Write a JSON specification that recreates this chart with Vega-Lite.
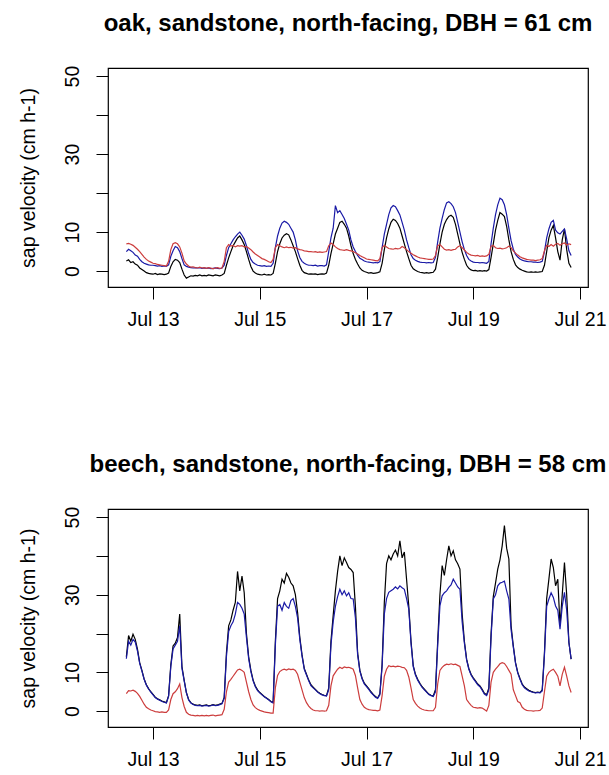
{
"$schema":"https://vega.github.io/schema/vega-lite/v6.json",
"background":"white",
"padding":{"left":17,"top":11,"right":5,"bottom":5},
"spacing":222,
"bounds":"flush",
"config":{
 "font":"Liberation Sans",
 "view":{"stroke":"#000","strokeWidth":1.2},
 "axis":{"domain":false,"grid":false,"tickColor":"#000","tickSize":12,"tickWidth":1,"labelColor":"#000","labelFontSize":19.5,"labelFont":"Liberation Sans","titleFont":"Liberation Sans","titleFontSize":19.5,"titleFontWeight":"normal","titleColor":"#000","labelFlush":false,"labelOverlap":false,"labelBound":false},
 "axisX":{"labelPadding":11.5,"labelAngle":0,"labelBaseline":"top","labelAlign":"center"},
 "axisY":{"labelPadding":18,"titleX":-74,"titleBaseline":"alphabetic","titleAngle":270,"titleAlign":"center"},
 "title":{"font":"Liberation Sans","fontSize":24,"fontWeight":"bold","color":"#000","anchor":"middle","frame":"group","baseline":"alphabetic","offset":29}
},
"datasets":{
"oak":[
{"t":"2014-07-12T12:00","k":2.6,"b":5.0,"r":7.0},
{"t":"2014-07-12T13:00","k":2.9,"b":5.6,"r":7.1},
{"t":"2014-07-12T14:00","k":2.2,"b":5.2,"r":6.9},
{"t":"2014-07-12T15:00","k":2.4,"b":4.8,"r":6.6},
{"t":"2014-07-12T16:00","k":1.8,"b":4.1,"r":6.1},
{"t":"2014-07-12T17:00","k":1.5,"b":3.8,"r":5.6},
{"t":"2014-07-12T18:00","k":0.8,"b":3.0,"r":5.0},
{"t":"2014-07-12T19:00","k":0.4,"b":2.4,"r":4.3},
{"t":"2014-07-12T20:00","k":0.0,"b":2.0,"r":3.6},
{"t":"2014-07-12T21:00","k":-0.4,"b":1.8,"r":3.0},
{"t":"2014-07-12T22:00","k":-0.6,"b":1.6,"r":2.6},
{"t":"2014-07-12T23:00","k":-0.7,"b":1.5,"r":2.3},
{"t":"2014-07-13T00:00","k":-0.8,"b":1.5,"r":2.0},
{"t":"2014-07-13T01:00","k":-0.6,"b":1.4,"r":1.9},
{"t":"2014-07-13T02:00","k":-0.9,"b":1.3,"r":1.7},
{"t":"2014-07-13T03:00","k":-0.7,"b":1.4,"r":1.6},
{"t":"2014-07-13T04:00","k":-0.8,"b":1.2,"r":1.5},
{"t":"2014-07-13T05:00","k":-0.9,"b":1.3,"r":1.4},
{"t":"2014-07-13T06:00","k":-0.8,"b":1.2,"r":1.3},
{"t":"2014-07-13T07:00","k":-0.5,"b":1.6,"r":2.5},
{"t":"2014-07-13T08:00","k":1.2,"b":3.8,"r":5.5},
{"t":"2014-07-13T09:00","k":2.4,"b":5.2,"r":7.0},
{"t":"2014-07-13T10:00","k":3.0,"b":6.3,"r":7.3},
{"t":"2014-07-13T11:00","k":2.8,"b":6.0,"r":7.0},
{"t":"2014-07-13T12:00","k":2.2,"b":5.0,"r":6.2},
{"t":"2014-07-13T13:00","k":0.5,"b":3.2,"r":4.6},
{"t":"2014-07-13T14:00","k":-1.0,"b":1.6,"r":2.6},
{"t":"2014-07-13T15:00","k":-1.8,"b":1.2,"r":1.8},
{"t":"2014-07-13T16:00","k":-1.5,"b":1.0,"r":1.3},
{"t":"2014-07-13T17:00","k":-1.2,"b":0.9,"r":1.0},
{"t":"2014-07-13T18:00","k":-1.3,"b":0.8,"r":1.1},
{"t":"2014-07-13T19:00","k":-1.1,"b":0.9,"r":0.9},
{"t":"2014-07-13T20:00","k":-1.2,"b":0.8,"r":0.8},
{"t":"2014-07-13T21:00","k":-1.0,"b":0.9,"r":1.0},
{"t":"2014-07-13T22:00","k":-1.2,"b":0.7,"r":0.8},
{"t":"2014-07-13T23:00","k":-1.1,"b":0.8,"r":0.9},
{"t":"2014-07-14T00:00","k":-1.2,"b":0.7,"r":0.7},
{"t":"2014-07-14T01:00","k":-1.0,"b":0.8,"r":0.9},
{"t":"2014-07-14T02:00","k":-1.1,"b":0.6,"r":0.8},
{"t":"2014-07-14T03:00","k":-1.2,"b":0.7,"r":0.6},
{"t":"2014-07-14T04:00","k":-1.0,"b":0.8,"r":0.8},
{"t":"2014-07-14T05:00","k":-1.1,"b":0.7,"r":0.9},
{"t":"2014-07-14T06:00","k":-1.2,"b":0.6,"r":0.7},
{"t":"2014-07-14T07:00","k":-1.0,"b":0.8,"r":0.8},
{"t":"2014-07-14T08:00","k":-0.6,"b":1.5,"r":2.5},
{"t":"2014-07-14T09:00","k":1.5,"b":4.0,"r":6.0},
{"t":"2014-07-14T10:00","k":3.4,"b":6.0,"r":6.8},
{"t":"2014-07-14T11:00","k":5.0,"b":7.0,"r":6.4},
{"t":"2014-07-14T12:00","k":6.5,"b":8.0,"r":6.6},
{"t":"2014-07-14T13:00","k":7.5,"b":8.8,"r":6.2},
{"t":"2014-07-14T14:00","k":8.5,"b":9.5,"r":6.5},
{"t":"2014-07-14T15:00","k":9.0,"b":10.0,"r":6.4},
{"t":"2014-07-14T16:00","k":8.0,"b":9.2,"r":6.5},
{"t":"2014-07-14T17:00","k":6.8,"b":8.2,"r":6.2},
{"t":"2014-07-14T18:00","k":5.0,"b":6.5,"r":6.3},
{"t":"2014-07-14T19:00","k":3.0,"b":4.5,"r":5.9},
{"t":"2014-07-14T20:00","k":1.2,"b":3.0,"r":5.5},
{"t":"2014-07-14T21:00","k":0.0,"b":2.2,"r":4.9},
{"t":"2014-07-14T22:00","k":-0.5,"b":1.8,"r":4.4},
{"t":"2014-07-14T23:00","k":-0.8,"b":1.5,"r":4.0},
{"t":"2014-07-15T00:00","k":-0.9,"b":1.4,"r":3.6},
{"t":"2014-07-15T01:00","k":-1.0,"b":1.3,"r":3.2},
{"t":"2014-07-15T02:00","k":-0.8,"b":1.4,"r":3.0},
{"t":"2014-07-15T03:00","k":-1.0,"b":1.2,"r":2.7},
{"t":"2014-07-15T04:00","k":-0.9,"b":1.3,"r":2.4},
{"t":"2014-07-15T05:00","k":-1.0,"b":1.2,"r":2.2},
{"t":"2014-07-15T06:00","k":-0.6,"b":2.0,"r":3.0},
{"t":"2014-07-15T07:00","k":2.0,"b":6.0,"r":6.0},
{"t":"2014-07-15T08:00","k":5.0,"b":9.0,"r":6.8},
{"t":"2014-07-15T09:00","k":7.0,"b":11.0,"r":6.5},
{"t":"2014-07-15T10:00","k":8.5,"b":12.3,"r":6.2},
{"t":"2014-07-15T11:00","k":9.2,"b":12.8,"r":6.0},
{"t":"2014-07-15T12:00","k":9.6,"b":12.5,"r":6.2},
{"t":"2014-07-15T13:00","k":9.3,"b":12.0,"r":6.0},
{"t":"2014-07-15T14:00","k":8.0,"b":11.0,"r":6.1},
{"t":"2014-07-15T15:00","k":6.5,"b":10.0,"r":5.9},
{"t":"2014-07-15T16:00","k":5.0,"b":8.0,"r":6.0},
{"t":"2014-07-15T17:00","k":3.2,"b":5.2,"r":5.7},
{"t":"2014-07-15T18:00","k":1.5,"b":3.5,"r":5.5},
{"t":"2014-07-15T19:00","k":0.2,"b":2.5,"r":5.4},
{"t":"2014-07-15T20:00","k":-0.4,"b":2.0,"r":5.2},
{"t":"2014-07-15T21:00","k":-0.6,"b":1.7,"r":5.1},
{"t":"2014-07-15T22:00","k":-0.8,"b":1.5,"r":5.0},
{"t":"2014-07-15T23:00","k":-0.7,"b":1.5,"r":5.0},
{"t":"2014-07-16T00:00","k":-0.8,"b":1.4,"r":4.9},
{"t":"2014-07-16T01:00","k":-0.7,"b":1.5,"r":5.0},
{"t":"2014-07-16T02:00","k":-0.9,"b":1.3,"r":4.8},
{"t":"2014-07-16T03:00","k":-0.8,"b":1.4,"r":4.9},
{"t":"2014-07-16T04:00","k":-0.7,"b":1.4,"r":4.8},
{"t":"2014-07-16T05:00","k":-0.8,"b":1.3,"r":4.9},
{"t":"2014-07-16T06:00","k":-0.5,"b":1.6,"r":5.0},
{"t":"2014-07-16T07:00","k":1.5,"b":5.0,"r":6.5},
{"t":"2014-07-16T08:00","k":4.5,"b":8.5,"r":7.2},
{"t":"2014-07-16T09:00","k":7.0,"b":11.0,"r":6.8},
{"t":"2014-07-16T10:00","k":9.5,"b":16.8,"r":6.2},
{"t":"2014-07-16T11:00","k":11.0,"b":15.0,"r":5.8},
{"t":"2014-07-16T12:00","k":12.5,"b":15.5,"r":5.5},
{"t":"2014-07-16T13:00","k":12.8,"b":14.5,"r":5.4},
{"t":"2014-07-16T14:00","k":12.0,"b":13.5,"r":5.3},
{"t":"2014-07-16T15:00","k":11.0,"b":12.0,"r":5.5},
{"t":"2014-07-16T16:00","k":9.0,"b":10.5,"r":5.3},
{"t":"2014-07-16T17:00","k":6.5,"b":8.0,"r":5.2},
{"t":"2014-07-16T18:00","k":4.5,"b":6.2,"r":5.0},
{"t":"2014-07-16T19:00","k":3.0,"b":5.0,"r":4.7},
{"t":"2014-07-16T20:00","k":1.8,"b":4.0,"r":4.4},
{"t":"2014-07-16T21:00","k":0.8,"b":3.3,"r":4.0},
{"t":"2014-07-16T22:00","k":0.2,"b":3.0,"r":3.7},
{"t":"2014-07-16T23:00","k":-0.1,"b":2.6,"r":3.4},
{"t":"2014-07-17T00:00","k":-0.3,"b":2.4,"r":3.1},
{"t":"2014-07-17T01:00","k":-0.5,"b":2.3,"r":3.0},
{"t":"2014-07-17T02:00","k":-0.4,"b":2.2,"r":2.9},
{"t":"2014-07-17T03:00","k":-0.6,"b":2.1,"r":2.8},
{"t":"2014-07-17T04:00","k":-0.5,"b":2.2,"r":2.7},
{"t":"2014-07-17T05:00","k":-0.4,"b":2.1,"r":2.6},
{"t":"2014-07-17T06:00","k":-0.2,"b":2.4,"r":3.2},
{"t":"2014-07-17T07:00","k":2.0,"b":6.0,"r":6.0},
{"t":"2014-07-17T08:00","k":5.5,"b":9.5,"r":6.6},
{"t":"2014-07-17T09:00","k":8.5,"b":12.0,"r":6.2},
{"t":"2014-07-17T10:00","k":10.8,"b":14.5,"r":5.8},
{"t":"2014-07-17T11:00","k":12.5,"b":16.2,"r":5.7},
{"t":"2014-07-17T12:00","k":13.3,"b":16.8,"r":5.6},
{"t":"2014-07-17T13:00","k":13.0,"b":16.5,"r":5.8},
{"t":"2014-07-17T14:00","k":12.2,"b":15.5,"r":5.7},
{"t":"2014-07-17T15:00","k":11.0,"b":14.4,"r":5.8},
{"t":"2014-07-17T16:00","k":9.0,"b":12.5,"r":6.3},
{"t":"2014-07-17T17:00","k":7.0,"b":10.5,"r":6.0},
{"t":"2014-07-17T18:00","k":5.0,"b":8.0,"r":5.5},
{"t":"2014-07-17T19:00","k":3.2,"b":6.0,"r":5.0},
{"t":"2014-07-17T20:00","k":1.5,"b":4.2,"r":4.6},
{"t":"2014-07-17T21:00","k":0.6,"b":3.2,"r":4.2},
{"t":"2014-07-17T22:00","k":0.2,"b":2.8,"r":3.9},
{"t":"2014-07-17T23:00","k":-0.1,"b":2.5,"r":3.6},
{"t":"2014-07-18T00:00","k":-0.3,"b":2.3,"r":3.4},
{"t":"2014-07-18T01:00","k":-0.4,"b":2.2,"r":3.3},
{"t":"2014-07-18T02:00","k":-0.5,"b":2.2,"r":3.2},
{"t":"2014-07-18T03:00","k":-0.4,"b":2.1,"r":3.1},
{"t":"2014-07-18T04:00","k":-0.5,"b":2.2,"r":3.0},
{"t":"2014-07-18T05:00","k":-0.4,"b":2.1,"r":3.0},
{"t":"2014-07-18T06:00","k":-0.3,"b":2.2,"r":3.1},
{"t":"2014-07-18T07:00","k":0.5,"b":3.5,"r":4.0},
{"t":"2014-07-18T08:00","k":3.5,"b":7.5,"r":6.5},
{"t":"2014-07-18T09:00","k":7.0,"b":11.0,"r":6.8},
{"t":"2014-07-18T10:00","k":10.0,"b":13.5,"r":6.2},
{"t":"2014-07-18T11:00","k":12.0,"b":15.8,"r":5.6},
{"t":"2014-07-18T12:00","k":13.2,"b":17.5,"r":5.4},
{"t":"2014-07-18T13:00","k":14.0,"b":17.8,"r":5.5},
{"t":"2014-07-18T14:00","k":14.3,"b":17.3,"r":5.3},
{"t":"2014-07-18T15:00","k":13.8,"b":16.5,"r":5.5},
{"t":"2014-07-18T16:00","k":12.0,"b":15.0,"r":5.6},
{"t":"2014-07-18T17:00","k":9.5,"b":12.5,"r":6.2},
{"t":"2014-07-18T18:00","k":7.0,"b":10.0,"r":6.5},
{"t":"2014-07-18T19:00","k":4.8,"b":7.5,"r":6.0},
{"t":"2014-07-18T20:00","k":3.0,"b":5.5,"r":5.4},
{"t":"2014-07-18T21:00","k":1.5,"b":4.0,"r":4.8},
{"t":"2014-07-18T22:00","k":0.7,"b":3.0,"r":4.4},
{"t":"2014-07-18T23:00","k":0.3,"b":2.6,"r":4.1},
{"t":"2014-07-19T00:00","k":0.1,"b":2.3,"r":4.0},
{"t":"2014-07-19T01:00","k":0.2,"b":2.2,"r":3.9},
{"t":"2014-07-19T02:00","k":0.0,"b":2.2,"r":4.0},
{"t":"2014-07-19T03:00","k":0.1,"b":2.1,"r":3.8},
{"t":"2014-07-19T04:00","k":0.0,"b":2.2,"r":3.9},
{"t":"2014-07-19T05:00","k":0.1,"b":2.1,"r":3.8},
{"t":"2014-07-19T06:00","k":0.0,"b":2.0,"r":3.9},
{"t":"2014-07-19T07:00","k":0.4,"b":2.5,"r":4.3},
{"t":"2014-07-19T08:00","k":3.5,"b":7.0,"r":6.4},
{"t":"2014-07-19T09:00","k":7.0,"b":11.0,"r":6.6},
{"t":"2014-07-19T10:00","k":10.5,"b":14.5,"r":6.0},
{"t":"2014-07-19T11:00","k":13.0,"b":17.0,"r":5.8},
{"t":"2014-07-19T12:00","k":15.0,"b":18.7,"r":5.9},
{"t":"2014-07-19T13:00","k":14.6,"b":18.3,"r":5.7},
{"t":"2014-07-19T14:00","k":14.0,"b":17.0,"r":5.8},
{"t":"2014-07-19T15:00","k":11.5,"b":14.5,"r":6.0},
{"t":"2014-07-19T16:00","k":8.0,"b":11.0,"r":6.4},
{"t":"2014-07-19T17:00","k":5.0,"b":7.8,"r":6.0},
{"t":"2014-07-19T18:00","k":3.0,"b":5.6,"r":5.2},
{"t":"2014-07-19T19:00","k":1.6,"b":4.3,"r":4.6},
{"t":"2014-07-19T20:00","k":0.9,"b":3.6,"r":4.1},
{"t":"2014-07-19T21:00","k":0.5,"b":3.1,"r":3.7},
{"t":"2014-07-19T22:00","k":0.2,"b":2.8,"r":3.4},
{"t":"2014-07-19T23:00","k":0.0,"b":2.6,"r":3.2},
{"t":"2014-07-20T00:00","k":-0.2,"b":2.5,"r":3.0},
{"t":"2014-07-20T01:00","k":-0.3,"b":2.4,"r":2.9},
{"t":"2014-07-20T02:00","k":-0.2,"b":2.4,"r":2.8},
{"t":"2014-07-20T03:00","k":-0.3,"b":2.3,"r":2.8},
{"t":"2014-07-20T04:00","k":-0.2,"b":2.3,"r":2.7},
{"t":"2014-07-20T05:00","k":-0.3,"b":2.2,"r":2.8},
{"t":"2014-07-20T06:00","k":-0.2,"b":2.3,"r":2.9},
{"t":"2014-07-20T07:00","k":-0.1,"b":2.5,"r":3.2},
{"t":"2014-07-20T08:00","k":1.5,"b":5.0,"r":5.2},
{"t":"2014-07-20T09:00","k":5.0,"b":8.5,"r":6.6},
{"t":"2014-07-20T10:00","k":8.5,"b":10.8,"r":6.3},
{"t":"2014-07-20T11:00","k":10.5,"b":12.5,"r":6.8},
{"t":"2014-07-20T12:00","k":11.7,"b":13.0,"r":6.4},
{"t":"2014-07-20T13:00","k":8.5,"b":10.5,"r":6.9},
{"t":"2014-07-20T14:00","k":5.0,"b":9.8,"r":7.1},
{"t":"2014-07-20T15:00","k":2.8,"b":9.5,"r":6.6},
{"t":"2014-07-20T16:00","k":8.0,"b":10.2,"r":7.0},
{"t":"2014-07-20T17:00","k":10.8,"b":10.8,"r":7.2},
{"t":"2014-07-20T18:00","k":5.5,"b":8.2,"r":6.7},
{"t":"2014-07-20T19:00","k":2.0,"b":5.2,"r":7.0},
{"t":"2014-07-20T20:00","k":0.9,"b":4.0,"r":6.8}
],
"beech":[
{"t":"2014-07-12T12:00","k":14.0,"b":13.5,"r":4.5},
{"t":"2014-07-12T13:00","k":19.5,"b":18.0,"r":5.3},
{"t":"2014-07-12T14:00","k":18.0,"b":17.0,"r":5.2},
{"t":"2014-07-12T15:00","k":19.8,"b":18.5,"r":5.4},
{"t":"2014-07-12T16:00","k":18.5,"b":17.8,"r":5.1},
{"t":"2014-07-12T17:00","k":16.0,"b":15.5,"r":4.6},
{"t":"2014-07-12T18:00","k":12.5,"b":12.3,"r":3.8},
{"t":"2014-07-12T19:00","k":10.5,"b":10.3,"r":2.8},
{"t":"2014-07-12T20:00","k":8.3,"b":8.2,"r":1.8},
{"t":"2014-07-12T21:00","k":6.8,"b":6.7,"r":1.0},
{"t":"2014-07-12T22:00","k":5.8,"b":5.7,"r":0.6},
{"t":"2014-07-12T23:00","k":5.0,"b":4.9,"r":0.3},
{"t":"2014-07-13T00:00","k":4.3,"b":4.2,"r":0.1},
{"t":"2014-07-13T01:00","k":3.6,"b":3.5,"r":-0.1},
{"t":"2014-07-13T02:00","k":3.2,"b":3.1,"r":-0.2},
{"t":"2014-07-13T03:00","k":2.9,"b":2.8,"r":-0.3},
{"t":"2014-07-13T04:00","k":2.6,"b":2.5,"r":-0.2},
{"t":"2014-07-13T05:00","k":2.4,"b":2.3,"r":-0.3},
{"t":"2014-07-13T06:00","k":2.2,"b":2.1,"r":-0.3},
{"t":"2014-07-13T07:00","k":4.0,"b":3.8,"r":0.3},
{"t":"2014-07-13T08:00","k":12.0,"b":11.5,"r":3.0},
{"t":"2014-07-13T09:00","k":16.8,"b":16.0,"r":4.5},
{"t":"2014-07-13T10:00","k":17.5,"b":17.0,"r":5.0},
{"t":"2014-07-13T11:00","k":19.0,"b":18.0,"r":5.8},
{"t":"2014-07-13T12:00","k":25.0,"b":22.0,"r":7.0},
{"t":"2014-07-13T13:00","k":11.5,"b":11.0,"r":3.5},
{"t":"2014-07-13T14:00","k":8.0,"b":7.8,"r":1.2},
{"t":"2014-07-13T15:00","k":4.8,"b":4.7,"r":-0.3},
{"t":"2014-07-13T16:00","k":3.0,"b":2.9,"r":-0.8},
{"t":"2014-07-13T17:00","k":2.2,"b":2.1,"r":-1.0},
{"t":"2014-07-13T18:00","k":1.8,"b":1.7,"r":-1.1},
{"t":"2014-07-13T19:00","k":1.6,"b":1.5,"r":-1.2},
{"t":"2014-07-13T20:00","k":1.5,"b":1.4,"r":-1.1},
{"t":"2014-07-13T21:00","k":1.6,"b":1.5,"r":-1.2},
{"t":"2014-07-13T22:00","k":1.4,"b":1.3,"r":-1.1},
{"t":"2014-07-13T23:00","k":1.5,"b":1.4,"r":-1.2},
{"t":"2014-07-14T00:00","k":1.6,"b":1.5,"r":-1.1},
{"t":"2014-07-14T01:00","k":1.4,"b":1.3,"r":-1.2},
{"t":"2014-07-14T02:00","k":1.5,"b":1.4,"r":-1.1},
{"t":"2014-07-14T03:00","k":1.7,"b":1.6,"r":-1.0},
{"t":"2014-07-14T04:00","k":1.5,"b":1.4,"r":-1.2},
{"t":"2014-07-14T05:00","k":1.6,"b":1.5,"r":-1.1},
{"t":"2014-07-14T06:00","k":1.8,"b":1.7,"r":-1.0},
{"t":"2014-07-14T07:00","k":2.0,"b":1.9,"r":-0.9},
{"t":"2014-07-14T08:00","k":3.5,"b":3.3,"r":0.5},
{"t":"2014-07-14T09:00","k":15.0,"b":14.0,"r":5.0},
{"t":"2014-07-14T10:00","k":22.0,"b":20.5,"r":7.5},
{"t":"2014-07-14T11:00","k":23.5,"b":22.0,"r":8.2},
{"t":"2014-07-14T12:00","k":26.0,"b":23.0,"r":9.0},
{"t":"2014-07-14T13:00","k":28.0,"b":25.0,"r":9.8},
{"t":"2014-07-14T14:00","k":36.0,"b":28.0,"r":10.6},
{"t":"2014-07-14T15:00","k":31.0,"b":27.5,"r":10.8},
{"t":"2014-07-14T16:00","k":34.8,"b":26.5,"r":10.5},
{"t":"2014-07-14T17:00","k":30.5,"b":25.0,"r":10.0},
{"t":"2014-07-14T18:00","k":20.0,"b":19.0,"r":7.5},
{"t":"2014-07-14T19:00","k":14.0,"b":13.5,"r":5.0},
{"t":"2014-07-14T20:00","k":10.5,"b":10.2,"r":3.0},
{"t":"2014-07-14T21:00","k":8.0,"b":7.8,"r":1.6},
{"t":"2014-07-14T22:00","k":6.5,"b":6.3,"r":0.9},
{"t":"2014-07-14T23:00","k":5.5,"b":5.3,"r":0.5},
{"t":"2014-07-15T00:00","k":4.8,"b":4.7,"r":0.2},
{"t":"2014-07-15T01:00","k":4.3,"b":4.2,"r":0.0},
{"t":"2014-07-15T02:00","k":3.8,"b":3.7,"r":-0.2},
{"t":"2014-07-15T03:00","k":3.4,"b":3.3,"r":-0.3},
{"t":"2014-07-15T04:00","k":3.0,"b":2.9,"r":-0.4},
{"t":"2014-07-15T05:00","k":2.5,"b":2.4,"r":-0.5},
{"t":"2014-07-15T06:00","k":2.2,"b":2.1,"r":-0.5},
{"t":"2014-07-15T07:00","k":18.0,"b":17.0,"r":6.0},
{"t":"2014-07-15T08:00","k":29.0,"b":27.0,"r":9.2},
{"t":"2014-07-15T09:00","k":31.0,"b":27.5,"r":10.2},
{"t":"2014-07-15T10:00","k":34.0,"b":26.0,"r":10.6},
{"t":"2014-07-15T11:00","k":33.0,"b":28.0,"r":10.8},
{"t":"2014-07-15T12:00","k":35.5,"b":27.0,"r":10.6},
{"t":"2014-07-15T13:00","k":34.5,"b":26.5,"r":10.9},
{"t":"2014-07-15T14:00","k":33.0,"b":28.5,"r":10.7},
{"t":"2014-07-15T15:00","k":32.3,"b":29.0,"r":10.8},
{"t":"2014-07-15T16:00","k":30.0,"b":27.0,"r":10.5},
{"t":"2014-07-15T17:00","k":25.4,"b":24.0,"r":9.5},
{"t":"2014-07-15T18:00","k":19.0,"b":18.5,"r":7.5},
{"t":"2014-07-15T19:00","k":14.5,"b":14.2,"r":5.5},
{"t":"2014-07-15T20:00","k":11.0,"b":10.8,"r":3.5},
{"t":"2014-07-15T21:00","k":9.5,"b":9.3,"r":2.2},
{"t":"2014-07-15T22:00","k":8.0,"b":7.8,"r":1.3},
{"t":"2014-07-15T23:00","k":6.8,"b":6.6,"r":0.7},
{"t":"2014-07-16T00:00","k":6.2,"b":6.0,"r":0.3},
{"t":"2014-07-16T01:00","k":5.6,"b":5.5,"r":0.1},
{"t":"2014-07-16T02:00","k":5.0,"b":4.9,"r":0.1},
{"t":"2014-07-16T03:00","k":4.6,"b":4.5,"r":0.0},
{"t":"2014-07-16T04:00","k":4.3,"b":4.2,"r":0.1},
{"t":"2014-07-16T05:00","k":4.1,"b":4.0,"r":0.0},
{"t":"2014-07-16T06:00","k":4.0,"b":3.9,"r":0.1},
{"t":"2014-07-16T07:00","k":6.0,"b":5.5,"r":1.5},
{"t":"2014-07-16T08:00","k":18.0,"b":17.0,"r":6.5},
{"t":"2014-07-16T09:00","k":24.6,"b":23.0,"r":9.1},
{"t":"2014-07-16T10:00","k":31.0,"b":27.0,"r":10.0},
{"t":"2014-07-16T11:00","k":36.0,"b":29.5,"r":10.8},
{"t":"2014-07-16T12:00","k":40.0,"b":31.4,"r":11.3},
{"t":"2014-07-16T13:00","k":37.5,"b":30.0,"r":11.0},
{"t":"2014-07-16T14:00","k":39.5,"b":31.0,"r":11.4},
{"t":"2014-07-16T15:00","k":38.3,"b":29.7,"r":11.2},
{"t":"2014-07-16T16:00","k":37.0,"b":30.5,"r":11.3},
{"t":"2014-07-16T17:00","k":36.5,"b":29.0,"r":11.1},
{"t":"2014-07-16T18:00","k":35.7,"b":28.9,"r":10.8},
{"t":"2014-07-16T19:00","k":27.0,"b":24.0,"r":9.2},
{"t":"2014-07-16T20:00","k":15.0,"b":14.5,"r":6.0},
{"t":"2014-07-16T21:00","k":10.5,"b":10.3,"r":3.0},
{"t":"2014-07-16T22:00","k":8.5,"b":8.3,"r":1.8},
{"t":"2014-07-16T23:00","k":7.2,"b":7.0,"r":1.0},
{"t":"2014-07-17T00:00","k":6.5,"b":6.3,"r":0.6},
{"t":"2014-07-17T01:00","k":5.8,"b":5.6,"r":0.4},
{"t":"2014-07-17T02:00","k":5.0,"b":4.8,"r":0.3},
{"t":"2014-07-17T03:00","k":4.3,"b":4.2,"r":0.2},
{"t":"2014-07-17T04:00","k":3.8,"b":3.6,"r":0.2},
{"t":"2014-07-17T05:00","k":3.4,"b":3.3,"r":0.1},
{"t":"2014-07-17T06:00","k":4.5,"b":4.2,"r":0.3},
{"t":"2014-07-17T07:00","k":12.0,"b":11.5,"r":4.0},
{"t":"2014-07-17T08:00","k":28.0,"b":25.0,"r":9.0},
{"t":"2014-07-17T09:00","k":38.0,"b":29.0,"r":10.8},
{"t":"2014-07-17T10:00","k":40.0,"b":30.6,"r":11.7},
{"t":"2014-07-17T11:00","k":39.0,"b":31.0,"r":11.5},
{"t":"2014-07-17T12:00","k":40.5,"b":31.4,"r":11.6},
{"t":"2014-07-17T13:00","k":41.5,"b":32.0,"r":11.4},
{"t":"2014-07-17T14:00","k":40.0,"b":31.5,"r":11.6},
{"t":"2014-07-17T15:00","k":43.9,"b":32.3,"r":11.5},
{"t":"2014-07-17T16:00","k":39.5,"b":31.8,"r":11.3},
{"t":"2014-07-17T17:00","k":41.0,"b":31.4,"r":11.2},
{"t":"2014-07-17T18:00","k":34.0,"b":29.0,"r":10.5},
{"t":"2014-07-17T19:00","k":27.0,"b":26.3,"r":8.8},
{"t":"2014-07-17T20:00","k":18.0,"b":17.5,"r":6.0},
{"t":"2014-07-17T21:00","k":11.7,"b":11.5,"r":3.0},
{"t":"2014-07-17T22:00","k":9.5,"b":9.3,"r":2.0},
{"t":"2014-07-17T23:00","k":8.2,"b":8.0,"r":1.3},
{"t":"2014-07-18T00:00","k":7.2,"b":7.0,"r":0.8},
{"t":"2014-07-18T01:00","k":6.3,"b":6.1,"r":0.5},
{"t":"2014-07-18T02:00","k":5.7,"b":5.5,"r":0.3},
{"t":"2014-07-18T03:00","k":5.0,"b":4.9,"r":0.2},
{"t":"2014-07-18T04:00","k":4.4,"b":4.3,"r":0.1},
{"t":"2014-07-18T05:00","k":4.1,"b":4.0,"r":0.1},
{"t":"2014-07-18T06:00","k":3.9,"b":3.8,"r":0.1},
{"t":"2014-07-18T07:00","k":5.5,"b":5.0,"r":1.0},
{"t":"2014-07-18T08:00","k":18.0,"b":17.0,"r":7.0},
{"t":"2014-07-18T09:00","k":30.0,"b":27.1,"r":10.5},
{"t":"2014-07-18T10:00","k":37.5,"b":29.7,"r":11.3},
{"t":"2014-07-18T11:00","k":35.0,"b":30.5,"r":11.8},
{"t":"2014-07-18T12:00","k":39.0,"b":31.0,"r":12.1},
{"t":"2014-07-18T13:00","k":42.6,"b":31.9,"r":12.0},
{"t":"2014-07-18T14:00","k":40.0,"b":32.5,"r":12.2},
{"t":"2014-07-18T15:00","k":41.3,"b":34.0,"r":12.0},
{"t":"2014-07-18T16:00","k":39.0,"b":33.0,"r":12.1},
{"t":"2014-07-18T17:00","k":38.0,"b":32.0,"r":11.8},
{"t":"2014-07-18T18:00","k":36.6,"b":31.4,"r":11.5},
{"t":"2014-07-18T19:00","k":25.0,"b":23.0,"r":9.0},
{"t":"2014-07-18T20:00","k":18.0,"b":17.5,"r":6.5},
{"t":"2014-07-18T21:00","k":13.4,"b":13.2,"r":3.0},
{"t":"2014-07-18T22:00","k":11.0,"b":10.8,"r":2.2},
{"t":"2014-07-18T23:00","k":9.5,"b":9.3,"r":1.5},
{"t":"2014-07-19T00:00","k":8.6,"b":8.4,"r":1.0},
{"t":"2014-07-19T01:00","k":7.8,"b":7.6,"r":0.9},
{"t":"2014-07-19T02:00","k":7.0,"b":6.8,"r":0.8},
{"t":"2014-07-19T03:00","k":6.5,"b":6.3,"r":0.9},
{"t":"2014-07-19T04:00","k":5.6,"b":5.4,"r":0.8},
{"t":"2014-07-19T05:00","k":4.6,"b":4.4,"r":0.4},
{"t":"2014-07-19T06:00","k":4.2,"b":4.0,"r":0.0},
{"t":"2014-07-19T07:00","k":6.0,"b":5.5,"r":1.5},
{"t":"2014-07-19T08:00","k":20.0,"b":19.0,"r":7.5},
{"t":"2014-07-19T09:00","k":29.5,"b":28.9,"r":10.0},
{"t":"2014-07-19T10:00","k":33.0,"b":30.0,"r":10.8},
{"t":"2014-07-19T11:00","k":36.6,"b":32.3,"r":11.5},
{"t":"2014-07-19T12:00","k":39.0,"b":33.0,"r":12.2},
{"t":"2014-07-19T13:00","k":42.6,"b":33.2,"r":12.5},
{"t":"2014-07-19T14:00","k":47.8,"b":33.5,"r":12.3},
{"t":"2014-07-19T15:00","k":42.0,"b":31.0,"r":11.5},
{"t":"2014-07-19T16:00","k":39.2,"b":28.9,"r":10.5},
{"t":"2014-07-19T17:00","k":22.0,"b":21.0,"r":9.5},
{"t":"2014-07-19T18:00","k":16.8,"b":16.5,"r":5.5},
{"t":"2014-07-19T19:00","k":12.5,"b":12.3,"r":4.0},
{"t":"2014-07-19T20:00","k":10.0,"b":9.8,"r":2.5},
{"t":"2014-07-19T21:00","k":8.4,"b":8.2,"r":2.2},
{"t":"2014-07-19T22:00","k":7.0,"b":6.8,"r":1.0},
{"t":"2014-07-19T23:00","k":6.2,"b":6.0,"r":0.5},
{"t":"2014-07-20T00:00","k":5.8,"b":5.6,"r":0.2},
{"t":"2014-07-20T01:00","k":5.4,"b":5.2,"r":0.1},
{"t":"2014-07-20T02:00","k":5.1,"b":5.0,"r":0.1},
{"t":"2014-07-20T03:00","k":4.9,"b":4.8,"r":0.0},
{"t":"2014-07-20T04:00","k":4.8,"b":4.7,"r":0.1},
{"t":"2014-07-20T05:00","k":4.9,"b":4.8,"r":0.1},
{"t":"2014-07-20T06:00","k":4.8,"b":4.7,"r":0.2},
{"t":"2014-07-20T07:00","k":5.5,"b":5.2,"r":0.8},
{"t":"2014-07-20T08:00","k":15.0,"b":14.5,"r":5.0},
{"t":"2014-07-20T09:00","k":29.0,"b":27.0,"r":9.0},
{"t":"2014-07-20T10:00","k":34.0,"b":28.9,"r":10.0},
{"t":"2014-07-20T11:00","k":39.2,"b":30.5,"r":10.5},
{"t":"2014-07-20T12:00","k":37.0,"b":29.3,"r":10.8},
{"t":"2014-07-20T13:00","k":32.3,"b":27.1,"r":10.0},
{"t":"2014-07-20T14:00","k":34.0,"b":26.0,"r":9.0},
{"t":"2014-07-20T15:00","k":22.0,"b":21.1,"r":6.5},
{"t":"2014-07-20T16:00","k":30.0,"b":27.0,"r":9.5},
{"t":"2014-07-20T17:00","k":38.3,"b":30.6,"r":11.3},
{"t":"2014-07-20T18:00","k":30.0,"b":26.0,"r":9.0},
{"t":"2014-07-20T19:00","k":17.7,"b":17.7,"r":6.5},
{"t":"2014-07-20T20:00","k":13.4,"b":13.4,"r":4.8}
]
},
"vconcat":[
{
 "title":{"text":"oak, sandstone, north-facing, DBH = 61 cm"},
 "width":480,"height":219,
 "data":{"name":"oak"},
 "encoding":{"x":{"field":"t","type":"temporal","title":null,
   "scale":{"domain":[{"year":2014,"month":7,"date":12,"hours":3,"minutes":45},{"year":2014,"month":7,"date":21,"hours":3,"minutes":35}]},
   "axis":{"values":[{"year":2014,"month":7,"date":13},{"year":2014,"month":7,"date":15},{"year":2014,"month":7,"date":17},{"year":2014,"month":7,"date":19},{"year":2014,"month":7,"date":21}],"format":"%b %d"}}},
 "layer":[
  {"mark":{"type":"line","color":"#000000","strokeWidth":1.2},
   "encoding":{"y":{"field":"k","type":"quantitative","title":"sap velocity (cm h-1)","scale":{"domain":[-4.08,52.08],"nice":false,"zero":false},"axis":{"values":[0,10,20,30,40,50],"labelExpr":"datum.value==20||datum.value==40?'':datum.label","labelAngle":270,"labelAlign":"center","labelBaseline":"alphabetic","titleY":109.5}}}},
  {"mark":{"type":"line","color":"#1a1aa6","strokeWidth":1.2},
   "encoding":{"y":{"field":"b","type":"quantitative","title":"sap velocity (cm h-1)","scale":{"domain":[-4.08,52.08],"nice":false,"zero":false},"axis":{"values":[0,10,20,30,40,50],"labelExpr":"datum.value==20||datum.value==40?'':datum.label","labelAngle":270,"labelAlign":"center","labelBaseline":"alphabetic","titleY":109.5}}}},
  {"mark":{"type":"line","color":"#cc3d3d","strokeWidth":1.2},
   "encoding":{"y":{"field":"r","type":"quantitative","title":"sap velocity (cm h-1)","scale":{"domain":[-4.08,52.08],"nice":false,"zero":false},"axis":{"values":[0,10,20,30,40,50],"labelExpr":"datum.value==20||datum.value==40?'':datum.label","labelAngle":270,"labelAlign":"center","labelBaseline":"alphabetic","titleY":109.5}}}}
 ]
},
{
 "title":{"text":"beech, sandstone, north-facing, DBH = 58 cm"},
 "width":480,"height":218,
 "data":{"name":"beech"},
 "encoding":{"x":{"field":"t","type":"temporal","title":null,
   "scale":{"domain":[{"year":2014,"month":7,"date":12,"hours":3,"minutes":45},{"year":2014,"month":7,"date":21,"hours":3,"minutes":35}]},
   "axis":{"values":[{"year":2014,"month":7,"date":13},{"year":2014,"month":7,"date":15},{"year":2014,"month":7,"date":17},{"year":2014,"month":7,"date":19},{"year":2014,"month":7,"date":21}],"format":"%b %d"}}},
 "layer":[
  {"mark":{"type":"line","color":"#000000","strokeWidth":1.2},
   "encoding":{"y":{"field":"k","type":"quantitative","title":"sap velocity (cm h-1)","scale":{"domain":[-4.08,52.08],"nice":false,"zero":false},"axis":{"values":[0,10,20,30,40,50],"labelExpr":"datum.value==20||datum.value==40?'':datum.label","labelAngle":270,"labelAlign":"center","labelBaseline":"alphabetic","titleY":109}}}},
  {"mark":{"type":"line","color":"#1a1aa6","strokeWidth":1.2},
   "encoding":{"y":{"field":"b","type":"quantitative","title":"sap velocity (cm h-1)","scale":{"domain":[-4.08,52.08],"nice":false,"zero":false},"axis":{"values":[0,10,20,30,40,50],"labelExpr":"datum.value==20||datum.value==40?'':datum.label","labelAngle":270,"labelAlign":"center","labelBaseline":"alphabetic","titleY":109}}}},
  {"mark":{"type":"line","color":"#cc3d3d","strokeWidth":1.2},
   "encoding":{"y":{"field":"r","type":"quantitative","title":"sap velocity (cm h-1)","scale":{"domain":[-4.08,52.08],"nice":false,"zero":false},"axis":{"values":[0,10,20,30,40,50],"labelExpr":"datum.value==20||datum.value==40?'':datum.label","labelAngle":270,"labelAlign":"center","labelBaseline":"alphabetic","titleY":109}}}}
 ]
}
]
}
